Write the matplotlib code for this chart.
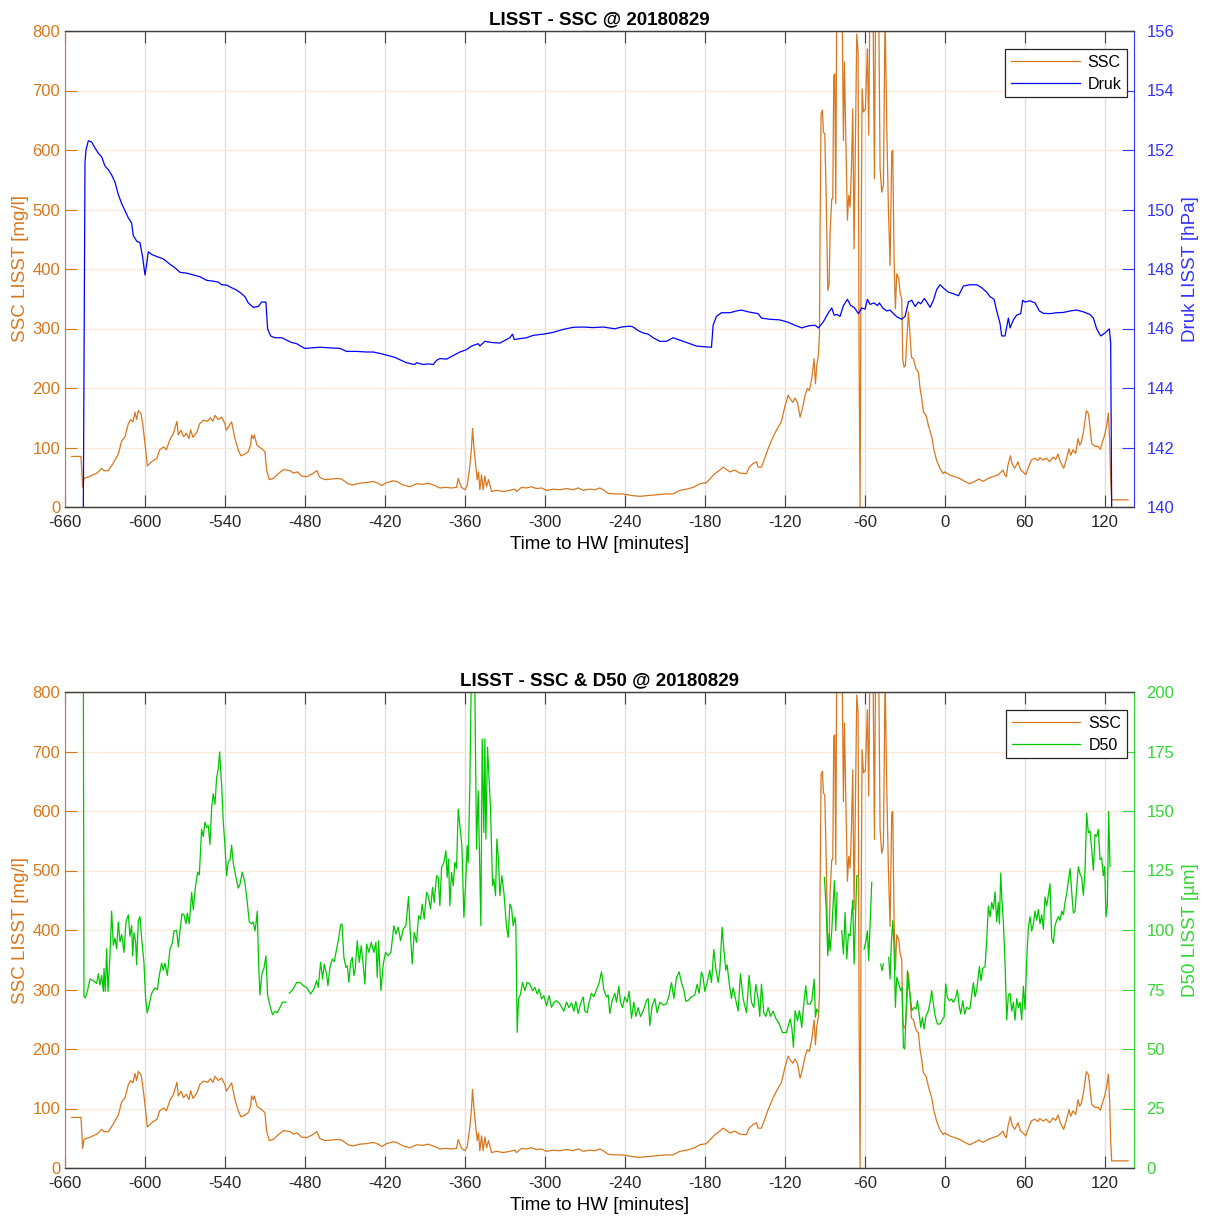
import numpy as np
import matplotlib.pyplot as plt

plt.rcParams['font.family'] = ['Liberation Sans', 'DejaVu Sans']
plt.rcParams['axes.unicode_minus'] = False

nan = np.nan

# SSC LISST [mg/l] (same series in both panels)
ssc_t = [-655, -648, -646.75, -645.75, -641, -636, -632.5, -630.75, -627.5, -624, -620, -617.5, -615, -612.5,
         -610.75, -609, -607.5, -606.25, -605, -603, -601.75, -600, -598.25, -595, -591, -589, -586, -584, -581,
         -578.75, -576, -575, -573, -571, -569, -567, -565.75, -564, -561, -559, -556, -553, -551, -549, -547.5,
         -545, -542.5, -540, -539, -536.75, -535, -532.5, -530, -528, -525, -522.5, -520.75, -520, -518.75, -518,
         -516, -512.5, -510, -508.75, -506.75, -503.75, -500, -496, -491, -488.75, -485.75, -482.5, -478.75, -475,
         -471, -469, -465, -460, -456, -452.5, -447.5, -444, -439,
         -433.75, -428.75, -425, -422.5, -418.75, -413.75, -411.25, -406.25, -401.25, -396.25, -391.25, -387.5,
         -382.5, -378.75, -374.25, -370, -366.25, -365, -362.5, -360, -358.25, -356.25, -355, -354.25, -353.25,
         -352, -350.75, -349.75, -348.75, -347.5, -346.25, -345, -343.75, -342.25, -340, -336.25, -331.25, -326.25,
         -322.5, -321.25, -317.5, -313.75, -310, -306.25, -302.5, -298.75, -293.75, -288.75, -283.75, -278.75, -275,
         -271.25, -266.25, -262.5, -258.75, -256.25, -252.5, -247.5, -242.5, -238.75, -233.75, -228.75, -223.75,
         -218.75, -213.75, -208.75, -203.75, -198.75, -193.75, -188.75, -183.75, -178.75, -176.25, -172.5, -168.75,
         -166.25, -163.75, -161.25, -157.5, -153.75, -148.75, -146.75, -143.75, -141.25, -140, -137.5, -135, -132.5,
         -128.75, -126.25, -122.5, -120, -117.5,
         -116, -114, -112.25, -110.5, -108.5, -106.5, -104.75, -103, -101.5, -99.75, -98, -97, -96, -94.75, -94,
         -93.5, -92.75, -91.75, -91, -90, -89, -87.75, -86.75, -86, -84.75, -84, -83.25, -82.5, -81.75, -81, -79,
         -77.25, -76, -75.25, -74.25, -73, -72, -71, -70, -69, -68, -67, -66, -65, -64.25, -63.5, -62.75, -62, -61,
         -59.5, -58, -57, -56, -55, -54, -52.75, -51.75, -49.75, -48.5, -47.25, -46, -44.75, -43.5, -42.25, -41,
         -39.75, -39, -38, -37, -36, -34.5, -33.5, -32.25, -31.5, -30.5, -29.5, -28.5, -27.25, -26, -25, -23.5,
         -21.5, -19.75, -18.5, -17.25, -16, -14, -12.25, -9.75, -8, -6, -3.5, -1,
         0, 3.75, 7.5, 11.25, 15, 18.75, 22.5, 25.75, 28.75, 32.5, 36.25, 40, 43.75, 45, 46.25, 47.5, 49.25, 50.75,
         52.5, 55, 56.75, 58.75, 60.75, 62.5, 65, 67.5, 70, 71.25, 73.75, 76.25, 78.75, 81.25, 83.25, 85, 86.75,
         89.25, 91.25, 93.25, 94.5, 96.25, 98.25, 100, 101.25, 102.5, 104.25, 106.25, 107.75, 108.75, 110.25, 112.5,
         115, 116.75, 118.25, 120, 121.75, 122.75, 123.75, 124.5, 125.25, 131.25, 137.5]
ssc = [85, 85, 33, 48, 52, 57, 65, 61, 61, 73, 89, 111, 118, 140,
       147, 143, 159, 147, 162, 157, 140, 107, 69, 76, 82, 96, 101, 96, 115,
       123, 144, 121, 129, 118, 124, 115, 130, 117, 126, 140, 146, 144, 150, 144, 154,
       147, 151, 140, 129, 137, 143, 115, 96, 86, 89, 93, 104, 121, 115, 121,
       104, 98, 93, 62, 46, 48, 56, 63, 61, 57, 59, 52, 51, 55,
       61, 50, 46, 47, 48, 47, 39, 37, 40,
       41, 43, 40, 36, 41, 44, 43, 37, 34, 39, 38, 40,
       36, 32, 33, 32, 33, 48, 33, 29, 36, 69, 101, 132, 101,
       73, 46, 59, 29, 54, 29, 52, 34, 46, 26, 28, 26, 28,
       30, 26, 33, 32, 34, 31, 32, 28, 30, 29, 31, 29, 32,
       28, 30, 29, 32, 29, 23, 22, 22, 21, 19, 18, 19,
       20, 21, 22, 22, 28, 30, 33, 39, 41, 47, 56, 62,
       67, 63, 59, 62, 57, 56, 67, 73, 76, 67, 67, 82, 98,
       118, 129, 144, 168, 188,
       182, 176, 183, 176, 151, 168, 188, 199, 196, 216, 249, 207, 238, 255, 289,
       473, 661, 667, 630, 627, 529, 364, 373, 462, 518, 518, 725, 728, 510, 850, 900,
       900, 616, 748, 625, 482, 524, 504, 569, 669, 434, 613, 795, 765, 249, 0, 417, 703, 664,
       669, 770, 625, 900, 800, 900, 552, 900, 900, 569, 529, 541, 830, 641, 501, 406,
       597, 599, 417, 333, 392, 384, 361, 350, 249, 235, 238, 277, 328, 289, 252, 249,
       232, 227, 199, 182, 160, 154, 137, 118, 95, 78, 64, 56,
       59, 54, 51, 48, 43, 39, 43, 47, 43, 48, 51, 54, 62, 54, 51, 71, 86, 71,
       65, 76, 63, 59, 54, 65, 79, 82, 78, 83, 79, 82, 76, 84, 80, 89, 76,
       65, 80, 98, 87, 96, 90, 115, 104, 109, 129, 162, 157, 140, 107, 102,
       102, 97, 109, 121, 140, 158, 112, 46, 12, 12, 12]

# Druk LISST [hPa]
druk_t = [-646.25, -645, -644.25, -642.5, -640, -637.5, -635, -632.5, -630, -627.5, -625, -622.5, -620, -617.5,
          -615, -612.5, -610, -608.75, -606.25, -603.75, -601.75, -600, -598.75, -597.5, -595, -591.25, -586.25,
          -581.25, -577.5, -573.75, -568.75, -563.75, -558.75, -553.75, -548.75, -545, -542.5, -538.75, -535,
          -531.25, -527.5, -525, -522.5, -518.75, -515, -512.5, -509.25, -508, -505.75, -502.5, -497.5, -493.75,
          -490, -486.25, -482.5, -480, -475, -468.75, -461.25, -453.75, -448.75, -441.25, -433.75, -428.75, -422.5,
          -417.5, -412.5, -408.75, -403.75, -400, -397.5, -396.25, -391.25, -387.5, -383.75, -381.25, -378.75,
          -373.75, -368.75, -363.75, -358.75, -355, -350, -348.75, -345, -340, -333.75, -328.75, -326.25, -324.25,
          -323, -318.75, -313.75, -308.75, -301.25, -293.75, -286.25, -278.75, -271.25, -263.75, -256.25, -247.5,
          -242.5, -236.25, -233.75, -230, -226.25, -222.5, -218.75, -213.75, -208.75, -203.75, -200, -196.25,
          -191.25, -186.25, -181.25, -175, -173.75, -171.25, -167.5, -161.25, -156.25, -152.5, -147.5, -140, -137.5,
          -131.25, -123.75, -117.5, -112.5, -107.25, -102.25, -97.25, -94.75, -91, -87.25, -84.75, -83, -81, -78.5,
          -76, -73, -70.5, -68, -64.75, -62.25, -59.75, -58, -56, -53, -50.5, -49, -46.5, -43.5, -41, -38.5, -35.5,
          -32.25, -29.75, -27.25, -24.75, -22.25, -19.75, -18, -15.25, -13.5, -11, -8.5, -6, -3.5, -0.5, 2.75, 6.5,
          10.25, 12, 14, 19, 24, 27.75, 31.5, 34, 37, 39, 41.5, 42.75, 45.25, 47, 47.75, 49, 51.5, 54, 57, 58.5,
          60.25, 64, 67.75, 71, 74, 79, 84, 89, 94, 99, 104, 109, 111.5, 114, 117, 120.25, 123.5, 124.5, 125.25]
druk = [140, 151.58, 152.0, 152.31, 152.27, 152.07, 151.89, 151.77, 151.46, 151.34, 151.16, 150.92, 150.50, 150.20,
        149.96, 149.72, 149.54, 149.12, 148.94, 148.88, 148.40, 147.80, 148.16, 148.58, 148.49, 148.42, 148.34,
        148.16, 148.04, 147.89, 147.86, 147.80, 147.74, 147.62, 147.59, 147.56, 147.47, 147.46, 147.37,
        147.29, 147.17, 147.07, 146.86, 146.71, 146.74, 146.89, 146.89, 145.99, 145.75, 145.69, 145.69, 145.61,
        145.53, 145.49, 145.39, 145.33, 145.35, 145.37, 145.35, 145.33, 145.23, 145.23, 145.21, 145.21, 145.15,
        145.09, 145.03, 144.95, 144.85, 144.81, 144.79, 144.85, 144.79, 144.81, 144.79, 144.93, 144.99,
        144.97, 145.09, 145.21, 145.29, 145.41, 145.49, 145.41, 145.57, 145.53, 145.51, 145.63, 145.69, 145.81,
        145.63, 145.66, 145.69, 145.77, 145.81, 145.87, 145.97, 146.04, 146.05, 146.03, 146.05, 145.99,
        146.05, 146.08, 146.05, 145.93, 145.85, 145.81, 145.69, 145.57, 145.57, 145.69, 145.63, 145.57,
        145.49, 145.41, 145.39, 145.37, 146.11, 146.41, 146.53, 146.53, 146.59, 146.62, 146.56, 146.50, 146.35,
        146.31, 146.29, 146.21, 146.11, 146.02, 146.09, 146.11, 146.02, 146.23, 146.53, 146.69, 146.45, 146.47,
        146.41, 146.77, 146.98, 146.77, 146.71, 146.50, 146.69, 146.65, 146.98, 146.81, 146.86, 146.77, 146.86,
        146.69, 146.59, 146.62, 146.50, 146.38, 146.31, 146.41, 146.89, 146.95, 146.74, 146.89, 146.83, 147.01,
        146.89, 146.71, 146.95, 147.31, 147.47, 147.34, 147.22, 147.17, 147.10, 147.25, 147.43, 147.47, 147.47,
        147.37, 147.22, 147.07, 146.98, 146.59, 146.17, 145.75, 145.75, 146.17, 146.35, 146.02, 146.29, 146.45,
        146.50, 146.95, 146.89, 146.93, 146.86, 146.59, 146.51, 146.50, 146.53, 146.54, 146.59, 146.62, 146.56,
        146.47, 146.35, 145.99, 145.75, 145.85, 145.99, 145.51, 140]

# D50 LISST [um], nan = gap in the record
d50_t = [-646.25, -645.75, -644.75, -643.25, -641.25, -638.75, -636.25, -635, -633.75, -632.5, -631.25, -630.75,
         -629.75, -628.75, -627.75, -626.25, -625, -623.75, -622.5, -621.25, -620, -618.75, -617.5, -615.75,
         -614.25, -612.5, -611.25, -610, -609.25, -608.25, -607, -606.25, -605, -603.75, -602.5, -600.75, -599.5,
         -598.25, -596.75, -595, -592.5, -590.75, -589.25, -587.5, -586.25, -585, -583.25, -581.25, -579.5,
         -578.25, -576.25, -575, -573.75, -572.25, -570.75, -569.25, -568.25, -566.75, -565, -563.75, -562.25,
         -560.5, -559.25, -557.5, -556.25, -555, -553.75, -552.5, -551.25, -550, -548.75, -547.5, -546.25, -545,
         -544, -542.5, -541.25, -540, -538.75, -537.5, -536.25, -535, -533.75, -531.75, -530, -528.75, -527, -525,
         -523.25, -521.75, -520, -518.75, -517.5, -516.75, -515.75, -514.75, -513.75, -512.25, -510.75, -509.25,
         -508, -506.25, -504.25, -502.5, -500.75, -498.75, -496.75, -494.25, -493, -491.75, -489.25, -486.25,
         -483.75, -481.25, -478.75, -475.75, -473.25, -471.25, -470, -468.25, -466.75, -465.5, -463.75, -462.75,
         -461.25, -459.5, -458, -456.25, -454.75, -453.25, -452.25, -450.75, -449.25, -448.25, -447, -445.75,
         -444.5, -443.25, -442.25, -440.75, -439.25, -437.75, -436.25, -435, -433.75, -432, -430.25, -428.25,
         -426.75, -425.75, -424.75, -423, -421.25, -419.5, -417.5, -415.5, -413.25, -411.75, -410, -408.25,
         -406.25, -404.25, -402.25, -401.25, -399.5, -398, -396.25, -394.75, -393.25, -392, -390.5, -388.75,
         -387.5, -385.75, -384.25, -383, -381.25, -380, -378.75, -377.5, -375.75, -374.25, -373.25, -372.25,
         -371.25, -370, -368.75, -367.5, -366.25, -365, -363.75, -362.25, -360.75, -359.5, -358.25, -357.5,
         -356.25, -355, -353.75, -352.5, -351.25, -350, -348, -347, -345.75, -345, -344.25, -343, -340.75,
         -339.25, -338.25, -337, -336, -334.75, -333.75, -332.25, -330.75, -328.75, -327.5, -326.25, -325,
         -323.75, -322.5, -321.75, -320.75, -319.75, -318.25, -316.75, -315, -313.25, -311.25, -309.25, -307.5,
         -305.75, -304.25, -302.5, -300.75, -298.75, -296.75, -295, -293.25, -291.25, -288.75,
         -285.75, -283.75, -282, -280, -278.25, -276.75, -275, -273.25, -271.25, -270, -268.25, -266.75, -265,
         -263.25, -261.25, -259.25, -257.5, -255.75, -253.75, -252.5, -251.25, -249.5, -247.5, -246.25, -244.5,
         -243.25, -241.75, -240, -238.25, -236.75, -235, -233.25, -231.75, -230, -228.25, -226.25, -223.75,
         -222.5, -221.25, -219.5, -217.5, -215.75, -213.75, -211.25, -208.75, -206.75, -205, -203.25, -201.25,
         -199.25, -197.5, -195.75, -194.25, -192.5, -190, -187.5, -185.75, -184.25, -182.5, -181.25, -180,
         -178.25, -176.25, -175, -173.25, -171.75, -170, -168.75, -167, -165.75, -164.25, -163.25, -161.75, -160,
         -158.75, -156.75, -155, -153.25, -151.25, -148.75, -146.75, -145, -143.25, -141.75, -140, -138.75,
         -137.5, -135.75, -134.25, -132.5, -130.75, -128.75, -126.75, -124.25, -121.75, -118.75,
         -116, -114.75, -113.5, -112.25, -110.5, -109, -107.25, -106, -104.25, -103, -101, -99.75, -98, -97, -96,
         -94.75, -92.5, -90.25, -89, -87.75, -86.75, -86, -84.75, -84, -82.75, -81.75, -80.75, -79, -77.25, -76,
         -74.75, -73.5, -72.25, -71, -69.75, -69, -68, -67, -66, -65, -63, -60.5, -59, -58, -57, -56, -54.75, -51,
         -48, -47, -46, -44, -42, -41, -40, -39, -38, -37, -36, -34.5, -33, -32, -31, -30, -29, -28, -27, -26,
         -24.75, -23, -21.5, -20.5, -19, -18, -16.75, -15.5, -14, -12.25, -11, -9.75, -8.5, -7.25, -5.5, -3.5,
         -1.5, -0.5, 0.75, 2, 3.5, 5.25, 6.5, 8.25, 9.5, 11, 12, 13.5, 15, 16.5, 18.5,
         19, 21.5, 22.75, 24, 26, 27.25, 28.5, 30.25, 31.5, 32.75, 34, 35.25, 36.5, 37.75, 39, 40.25, 41, 42, 43,
         44, 45.25, 46.5, 47.75, 49, 50.25, 51.5, 52.75, 54, 55.25, 56.5, 57.75, 59, 60.25, 61.5, 62.75, 64,
         65.25, 66.5, 67.75, 69, 70.25, 71.5, 72.75, 74, 75.25, 76.5, 77.75, 79, 80.25, 81.5, 82.75, 84, 85.25,
         86.5, 87.75, 89, 90.25, 91.5, 92.75, 94, 95.25, 96.5, 97.75, 99, 100.25, 101.5, 102.75, 104, 105.25,
         106.5, 107.75, 109, 110.25, 111.5, 112.75, 114, 115.25, 116.5, 117.75, 119, 120, 121, 122, 123, 124]
d50 = [210, 71.9, 71.5, 74.2, 79.4, 78.7, 77.5, 81.6, 76.9, 80.9, 74.2, 83.9,
       74.2, 92.1, 74.2, 89.1, 107.9, 93.6, 96.6, 92.1, 103.4, 95.1, 98.1, 90.6,
       103.4, 106.4, 97.4, 101.9, 89.1, 98.9, 95.1, 85.4, 104.1, 105.6, 96.6, 86.1, 71.2,
       65.2, 68.9, 73.4, 75.7, 74.9, 80.9, 86.1, 83.1, 86.1, 80.9, 92.1, 94.4,
       99.6, 99.9, 92.9, 99.6, 106.8, 106.4, 102.6, 107.1, 102.6, 115.8, 108.6, 117.6,
       124.3, 123.1, 142.3, 139.3, 145.3, 143.1, 143.8, 135.9, 151.3, 157.3, 152.8, 164.0, 167.8,
       174.8, 161.0, 145.3, 135.6, 122.8, 128.8, 129.3, 135.6, 128.1, 122.1, 117.6, 119.1, 124.3, 119.9,
       111.6, 103.4, 102.6, 103.4, 99.6, 102.6, 107.9, 86.1, 72.7, 81.6, 83.9, 89.1,
       72.7, 68.2, 64.4, 65.9, 65.2, 67.4, 69.7, 69.7, nan, 73.4, 74.9, 77.9,
       78.0, 76.6, 75.9, 73.1, 75.2, 78.7, 75.9, 86.4, 79.4, 85.7, 81.5, 76.6,
       84.3, 87.8, 86.7, 92.0, 96.2, 102.1, 102.5, 88.5, 84.3, 85.0, 78.0, 86.4,
       88.5, 80.8, 83.6, 95.5, 86.4, 93.4, 85.0, 77.3, 94.1, 90.6, 94.8, 90.6,
       94.8, 80.1, 95.5, 74.5, 85.7, 90.6, 89.2, 90.6, 101.8, 98.3, 101.1, 95.5,
       100.4, 101.8, 114.1, 101.8, 85.7, 99.0, 94.8, 106.0, 104.6, 110.9, 104.6, 115.8,
       114.4, 108.8, 117.9, 111.6, 122.8, 122.1, 110.2, 126.3, 128.4, 133.3, 122.1, 129.8,
       110.2, 124.2, 118.6, 128.4, 125.9, 150.8, 143.8, 135.4, 105.3, 118.6, 135.4, 128.4,
       162.0, 215, 215, 200, 134.0, 158.5, 101.8, 180.3, 141.0, 180.3, 138.2, 176.8, 150.8,
       118.6, 121.4, 114.4, 138.2, 129.1, 114.4, 122.8, 115.8, 101.1, 96.9, 110.9, 109.5,
       101.8, 105.3, 101.8, 57.0, 71.0, 73.1, 78.0, 74.5, 78.0, 77.3, 74.5, 75.9,
       73.1, 75.2, 71.0, 72.4, 68.2, 72.4, 67.5, 69.6, 70.3, 68.9,
       65.9, 69.7, 67.4, 69.4, 65.9, 70.0, 64.9, 68.9, 71.9, 65.9, 65.2, 69.7, 73.4,
       71.9, 74.9, 77.9, 82.4, 74.9, 71.9, 72.7, 64.9, 70.4, 73.4, 69.7, 76.4,
       69.7, 67.4, 71.9, 69.7, 74.2, 62.9, 69.7, 63.7, 67.4, 63.7, 65.9, 70.4,
       71.2, 59.9, 68.2, 71.2, 65.2, 69.7, 68.5, 68.9, 72.7, 77.9, 71.2, 80.1,
       82.4, 77.9, 74.9, 70.0, 70.4, 71.9, 72.7, 77.2, 73.4, 82.4, 80.1, 74.2,
       77.9, 83.1, 77.9, 91.8, 83.9, 77.9, 83.1, 101.1, 92.1, 83.1, 85.4, 77.9, 71.2,
       75.7, 70.4, 65.9, 81.6, 71.2, 65.2, 80.9, 69.7, 67.4, 77.2, 71.2, 63.7,
       77.2, 65.2, 63.7, 67.4, 63.7, 65.9, 62.9, 60.7, 56.9, 56.9,
       62.6, 59.1, 50.7, 66.1, 61.9, 66.1, 59.1, 67.5, 76.6, 68.9, 68.9, 70.3, 79.4, 63.3, 66.8,
       65.4, nan, 122.1, 109.5, 89.2, 98.3, 91.3, 99.7, 108.1, 120.7, 99.7, 115.8, nan, 99.7, 89.9,
       107.4, 87.8, 98.3, 97.6, 107.4, 112.3, 85.7, 103.9, 122.8, 122.8, nan, 92.0, 95.5, 99.7, 87.1, 102.5, 120.0, nan,
       85.7, 82.9, 85.7, nan, 88.5, 79.4, 95.5, 103.9, 92.7, 67.5, 80.1, 77.3, 74.5, 75.9, 50.7, 50.0, 64.7, 82.9, 75.9, 73.1,
       66.1, 67.5, 66.8, 70.3, 64.0, 59.1, 63.3, 58.4, 64.0, 66.1, 69.6, 74.5, 68.9, 64.0, 60.5, 60.5,
       62.6, 63.3, 77.3, 71.7, 70.3, 71.0, 69.6, 71.7, 74.8, 67.5, 64.7, 70.3, 64.7, 67.5, 66.8,
       67.4, 77.9, 71.9, 74.9, 84.6, 78.7, 83.9, 84.6, 95.9, 110.1, 105.6, 111.6, 108.6, 116.1, 103.4, 111.6, 102.6, 123.9, 111.6,
       103.4, 86.1, 62.2, 72.7, 73.4, 65.9, 69.7, 62.2, 71.2, 67.4, 69.7, 62.2, 76.4, 66.7, 87.6, 101.1, 105.6,
       99.6, 102.6, 107.9, 104.1, 108.6, 102.6, 106.4, 100.4, 113.9, 110.1, 114.6, 119.4, 96.6, 94.4, 101.9, 104.1, 105.6,
       104.1, 107.9, 106.4, 111.6, 115.4, 120.6, 125.8, 116.1, 107.1, 107.9, 117.6, 126.6, 123.6, 122.1, 114.6, 125.1,
       149.1, 140.8, 141.6, 134.1, 125.1, 140.1, 139.3, 142.3, 129.6, 130.3, 122.8, 126.6, 105.6, 110.1, 149.8, 126.6]

xticks = list(range(-660, 121, 60))

c_ssc = '#D9771E'
c_druk = '#0000FF'
c_druk_ax = '#3333FF'
c_d50 = '#00C800'
c_d50_ax = '#33D633'
c_dark = '#404040'

W, H = 1209, 1218
x0, x1 = 65, 1134
fig = plt.figure(figsize=(W / 100, H / 100), dpi=100)


def make_panel(top, title, r_data, r_t, r_label, r_name, r_color, r_axcolor, r_lim, r_ticks):
    ax = fig.add_axes([x0 / W, 1 - (top + 476) / H, (x1 - x0) / W, 476 / H])
    axr = ax.twinx()
    l1, = ax.plot(ssc_t, ssc, color=c_ssc, lw=0.9, label='SSC')
    l2, = axr.plot(r_t, r_data, color=r_color, lw=0.9, label=r_name)

    ax.set_xlim(-660, 142)
    ax.set_ylim(0, 800)
    axr.set_ylim(*r_lim)
    ax.set_xticks(xticks)
    ax.set_yticks(range(0, 801, 100))
    axr.set_yticks(r_ticks)

    ax.grid(axis='x', color='#DEDEDE', lw=1.0)
    ax.grid(axis='y', color='#F9EBDD', lw=1.0)
    ax.set_axisbelow(True)

    ax.tick_params(axis='x', direction='in', length=8.5, width=0.8, top=True, color=c_dark,
                   labelcolor='#262626', labelsize=12, pad=6)
    ax.tick_params(axis='y', direction='in', length=8.5, width=0.8, color=c_ssc,
                   labelcolor=c_ssc, labelsize=12, pad=3.5)
    axr.tick_params(axis='y', direction='in', length=8.5, width=0.8, color=r_axcolor,
                    labelcolor=r_axcolor, labelsize=12, pad=9)

    for a in (ax, axr):
        a.spines['top'].set_color(c_dark)
        a.spines['bottom'].set_color(c_dark)
        a.spines['top'].set_linewidth(0.9)
        a.spines['bottom'].set_linewidth(0.9)
    ax.spines['left'].set_color(c_ssc)
    ax.spines['right'].set_visible(False)
    axr.spines['left'].set_visible(False)
    axr.spines['right'].set_color(r_axcolor)

    ax.set_title(title, fontsize=13.5, fontweight='bold', pad=5)
    ax.set_xlabel('Time to HW [minutes]', fontsize=13.5)
    ax.xaxis.set_label_coords(0.5, -(536 - 507) / 476)
    ax.set_ylabel('SSC LISST [mg/l]', fontsize=13.5, color=c_ssc)
    ax.yaxis.set_label_coords((29 - x0) / (x1 - x0), 0.5)
    axr.set_ylabel(r_label, fontsize=13.5, color=r_axcolor)
    axr.yaxis.set_label_coords((1182 - x0) / (x1 - x0), 0.5)

    leg = axr.legend([l1, l2], ['SSC', r_name], loc='upper right',
                     bbox_to_anchor=(1 - 7 / (x1 - x0), 1 - 18 / 476), borderaxespad=0,
                     fontsize=11.5, handlelength=4.3, handletextpad=0.5, labelspacing=0.45,
                     borderpad=0.35, fancybox=False, framealpha=1, edgecolor='#262626')
    leg.get_frame().set_linewidth(0.9)


make_panel(31, 'LISST - SSC @ 20180829', druk, druk_t, 'Druk LISST [hPa]', 'Druk',
           c_druk, c_druk_ax, (140, 156), list(range(140, 157, 2)))
make_panel(692, 'LISST - SSC & D50 @ 20180829', d50, d50_t, 'D50 LISST [µm]', 'D50',
           c_d50, c_d50_ax, (0, 200), list(range(0, 201, 25)))

fig.savefig('out.png', dpi=100)
